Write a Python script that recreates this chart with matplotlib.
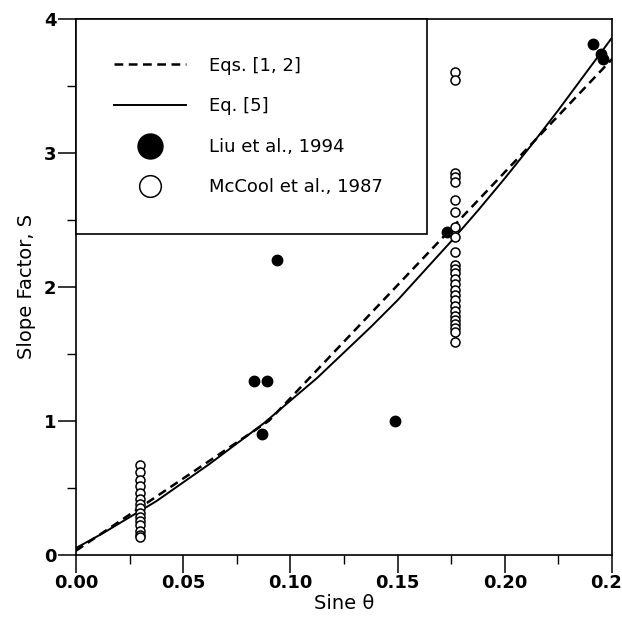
import matplotlib.pyplot as plt
from matplotlib.ticker import MultipleLocator

# Eqs. [1, 2] (dashed)
eq12_x = [0.0, 0.09, 0.25]
eq12_y = [0.03, 1.00, 3.70]

# Eq. [5] (solid)
eq5_x = [0.0, 0.0125, 0.025, 0.0375, 0.05, 0.0625, 0.075, 0.0875, 0.10,
         0.1125, 0.125, 0.1375, 0.15, 0.1625, 0.175, 0.1875, 0.20,
         0.2125, 0.225, 0.2375, 0.25]
eq5_y = [0.05, 0.16, 0.28, 0.40, 0.54, 0.68, 0.83, 0.98, 1.15,
         1.32, 1.51, 1.70, 1.90, 2.12, 2.34, 2.57, 2.81,
         3.06, 3.32, 3.59, 3.86]

# Liu et al., 1994
liu_x = [0.083, 0.089, 0.087, 0.094, 0.149, 0.173, 0.241, 0.245, 0.246]
liu_y = [1.30, 1.30, 0.90, 2.20, 1.00, 2.41, 3.81, 3.74, 3.70]

# McCool et al., 1987
mccool_low_y = [0.67, 0.62, 0.56, 0.51, 0.46, 0.42, 0.38, 0.35, 0.31,
                0.28, 0.25, 0.22, 0.18, 0.15, 0.13]
mccool_high_y = [3.60, 3.54, 2.85, 2.82, 2.78, 2.65, 2.56, 2.45, 2.37,
                 2.26, 2.16, 2.13, 2.10, 2.06, 2.02, 1.98, 1.94, 1.90,
                 1.86, 1.82, 1.78, 1.75, 1.72, 1.69, 1.66, 1.59]
mccool_x = [0.030] * len(mccool_low_y) + [0.177] * len(mccool_high_y)
mccool_y = mccool_low_y + mccool_high_y

fig = plt.figure(figsize=(6.22, 6.29), dpi=100)
ax = fig.add_axes([0.122, 0.118, 0.862, 0.852])

ax.plot(eq12_x, eq12_y, color="black", lw=1.8, linestyle=(0, (3.5, 2.2)),
        label="Eqs. [1, 2]")
ax.plot(eq5_x, eq5_y, color="black", lw=1.4, label="Eq. [5]")
ax.plot(liu_x, liu_y, "o", color="black", markersize=7.5,
        label="Liu et al., 1994", zorder=3)
ax.plot(mccool_x, mccool_y, "o", markerfacecolor="white",
        markeredgecolor="black", markeredgewidth=1.1, markersize=6.5,
        label="McCool et al., 1987", zorder=3)

ax.set_xlim(0, 0.25)
ax.set_ylim(0, 4)
ax.xaxis.set_major_locator(MultipleLocator(0.05))
ax.xaxis.set_minor_locator(MultipleLocator(0.025))
ax.yaxis.set_major_locator(MultipleLocator(1))
ax.yaxis.set_minor_locator(MultipleLocator(0.5))
ax.set_xticklabels([f"{v:.2f}" for v in ax.get_xticks()])
ax.tick_params(which="major", length=13, width=1.1, direction="out", pad=1)
ax.tick_params(which="minor", length=6.5, width=1.0, direction="out")
ax.tick_params(labelsize=13)
for lbl in ax.get_xticklabels() + ax.get_yticklabels():
    lbl.set_fontweight("bold")
for sp in ax.spines.values():
    sp.set_linewidth(1.2)

ax.set_xlabel("Sine θ", fontsize=14, labelpad=1)
ax.set_ylabel("Slope Factor, S", fontsize=14, labelpad=6)

leg = ax.legend(loc="upper left", bbox_to_anchor=(0, 0.5, 0.655, 0.5),
                mode="expand", borderaxespad=0, fancybox=False,
                edgecolor="black", framealpha=1, fontsize=13,
                handlelength=4.0, handletextpad=1.3, labelspacing=1.25,
                borderpad=2.1, markerscale=2.4)
leg.get_frame().set_linewidth(1.2)

fig.savefig("out.png", dpi=100)
